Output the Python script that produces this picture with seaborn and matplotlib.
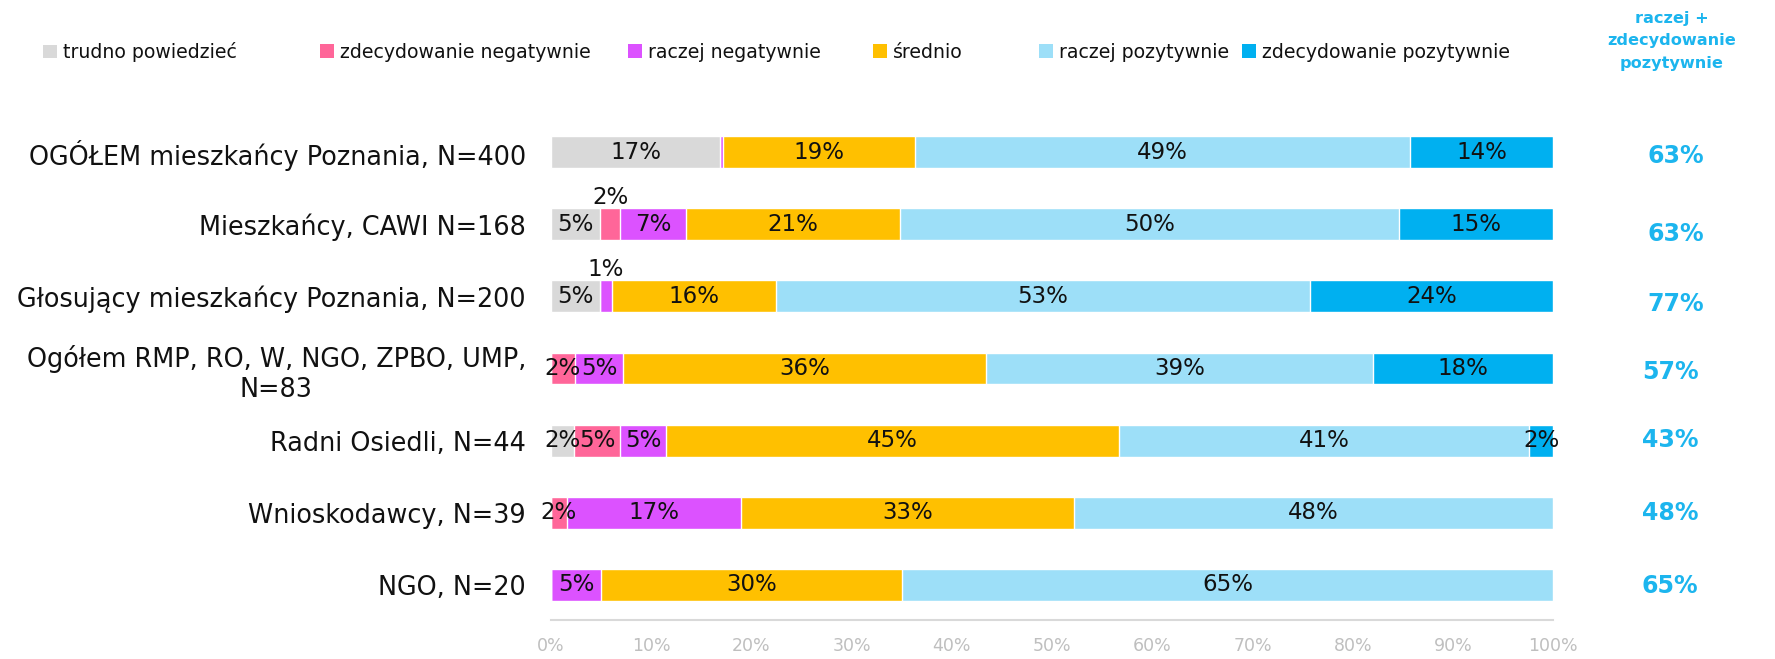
import matplotlib
matplotlib.use("Agg")
import matplotlib.pyplot as plt
import matplotlib.transforms as mtransforms
from matplotlib.patches import Patch
import numpy as np
import pandas as pd
import seaborn as sns

# ---- data -------------------------------------------------------------
categories = [
    "OGÓŁEM mieszkańcy Poznania, N=400",
    "Mieszkańcy, CAWI N=168",
    "Głosujący mieszkańcy Poznania, N=200",
    "Ogółem RMP, RO, W, NGO, ZPBO, UMP,\nN=83",
    "Radni Osiedli, N=44",
    "Wnioskodawcy, N=39",
    "NGO, N=20",
]
series_names = [
    "trudno powiedzieć",
    "zdecydowanie negatywnie",
    "raczej negatywnie",
    "średnio",
    "raczej pozytywnie",
    "zdecydowanie pozytywnie",
]
trudno = [16.9, 4.9, 4.9, 0.0, 2.3, 0.0, 0.0]
zdec_neg = [0.0, 2.0, 0.0, 2.4, 4.6, 1.6, 0.0]
raczej_neg = [0.3, 6.6, 1.2, 4.8, 4.6, 17.4, 5.0]
srednio = [19.1, 21.3, 16.4, 36.2, 45.2, 33.2, 30.0]
raczej_poz = [49.4, 49.8, 53.2, 38.6, 40.9, 47.8, 65.0]
zdec_poz = [14.3, 15.4, 24.3, 18.0, 2.4, 0.0, 0.0]
top2_box = [63, 63, 77, 57, 43, 48, 65]
x_ticks = [0, 10, 20, 30, 40, 50, 60, 70, 80, 90, 100]

colors = ["#d9d9d9", "#ff6699", "#dc52ff", "#ffc000", "#9ddff8", "#00b0f0"]
accent = "#1cb5ee"

series = [trudno, zdec_neg, raczej_neg, srednio, raczej_poz, zdec_poz]
df = pd.DataFrame({"kategoria": categories})
for name, vals in zip(series_names, series):
    df[name] = vals
cum = df[series_names].cumsum(axis=1)
for name in series_names:
    df["cum_" + name] = cum[name]

# ---- figure -----------------------------------------------------------
sns.set_theme(style="white")
plt.rcParams["font.family"] = ["DejaVu Sans"]

fig = plt.figure(figsize=(17.75, 6.59), dpi=100)
ax = fig.add_axes([0.3104, 0.0592, 0.5646, 0.7648])

bar_w = 0.44
# stacked bars: draw cumulative totals from the outermost layer inwards
for name, col in reversed(list(zip(series_names, colors))):
    sns.barplot(data=df, x="cum_" + name, y="kategoria", orient="h",
                color=col, width=bar_w, saturation=1, errorbar=None, ax=ax)

# segment labels
for i in range(len(categories)):
    left = 0.0
    for name in series_names:
        v = df.loc[i, name]
        if v >= 0.5:
            xc = left + v / 2
            txt = f"{v:.0f}%"
            if v < 2.2 and left > 0.5:
                ax.text(xc, i - bar_w / 2 + 0.01, txt, ha="center", va="bottom",
                        fontsize=16.5, color="#111111")
            else:
                ax.text(xc, i, txt, ha="center", va="center",
                        fontsize=16.5, color="#111111")
        left += v

ax.set_xlim(0, 100)
ax.set_ylim(len(categories) - 1 + 0.485, -0.5)
ax.set_xticks(x_ticks)
ax.set_xticklabels([f"{t}%" for t in x_ticks], color="#bfbfbf", fontsize=12.5)
ax.set_xlabel("")
ax.set_ylabel("")
ax.tick_params(axis="x", direction="out", length=6, width=1.5, color="#d9d9d9", pad=6)
ax.tick_params(axis="y", length=0, pad=18, labelsize=18.4, labelcolor="#111111")
for lbl in ax.get_yticklabels():
    lbl.set_multialignment("center")
for s in ["left", "top", "right"]:
    ax.spines[s].set_visible(False)
ax.spines["bottom"].set_color("#d9d9d9")
ax.spines["bottom"].set_linewidth(1.5)
ax.grid(False)

# right-hand summary column
tr = mtransforms.blended_transform_factory(fig.transFigure, ax.transData)
value_dx = [0.003, 0.003, 0.003, 0.0, 0.0, 0.0, 0.0]
value_dy = [0.05, 0.14, 0.11, 0.05, -0.015, 0.0, 0.015]
for i, v in enumerate(top2_box):
    ax.text(0.941 + value_dx[i], i + value_dy[i], f"{v}%", transform=tr,
            ha="center", va="center", fontsize=17, fontweight="bold", color=accent)
fig.text(0.942, 0.938, "raczej +\nzdecydowanie\npozytywnie", ha="center", va="center",
         fontsize=11.6, fontweight="bold", color=accent, linespacing=1.6)

# legend, one entry per slot along the top
legend_x = [43, 320, 628, 873, 1039, 1242]
for name, col, xp in zip(series_names, colors, legend_x):
    fig.legend([Patch(facecolor=col, edgecolor="none")], [name], loc="center left",
               bbox_to_anchor=(xp / 1775, 0.921), frameon=False,
               handlelength=0.75, handleheight=0.75, handletextpad=0.3,
               fontsize=13.6, borderaxespad=0, borderpad=0, labelcolor="#111111")

fig.savefig("out.png", dpi=100)
